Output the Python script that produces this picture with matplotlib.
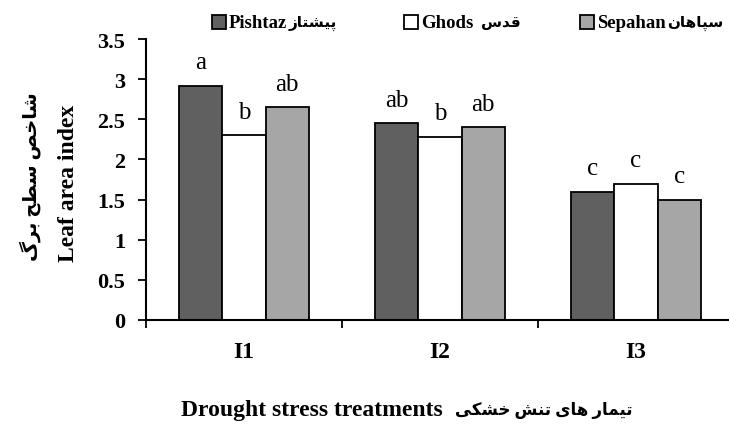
import matplotlib
matplotlib.use("Agg")
import matplotlib.pyplot as plt
from matplotlib.patches import Rectangle
import numpy as np

# ---------------- data ----------------
categories = ["I1", "I2", "I3"]
pishtaz = [2.92, 2.45, 1.60]
ghods = [2.30, 2.28, 1.70]
sepahan = [2.65, 2.40, 1.50]
letters_pishtaz = ["a", "ab", "c"]
letters_ghods = ["b", "b", "c"]
letters_sepahan = ["ab", "ab", "c"]
yticks = [0, 0.5, 1, 1.5, 2, 2.5, 3, 3.5]
ytick_labels = ["0", "0.5", "1", "1.5", "2", "2.5", "3", "3.5"]
series_latin = ["Pishtaz", "Ghods", "Sepahan"]
series_persian = ["پیشتاز", "قدس", "سپاهان"]

# ---------------- simple Persian shaping ----------------
FORMS = {
    'ا': ('\uFE8D', '\uFE8E', None, None),
    'ب': ('\uFE8F', '\uFE90', '\uFE91', '\uFE92'),
    'پ': ('\uFB56', '\uFB57', '\uFB58', '\uFB59'),
    'ت': ('\uFE95', '\uFE96', '\uFE97', '\uFE98'),
    'ح': ('\uFEA1', '\uFEA2', '\uFEA3', '\uFEA4'),
    'خ': ('\uFEA5', '\uFEA6', '\uFEA7', '\uFEA8'),
    'د': ('\uFEA9', '\uFEAA', None, None),
    'ر': ('\uFEAD', '\uFEAE', None, None),
    'ز': ('\uFEAF', '\uFEB0', None, None),
    'س': ('\uFEB1', '\uFEB2', '\uFEB3', '\uFEB4'),
    'ش': ('\uFEB5', '\uFEB6', '\uFEB7', '\uFEB8'),
    'ص': ('\uFEB9', '\uFEBA', '\uFEBB', '\uFEBC'),
    'ط': ('\uFEC1', '\uFEC2', '\uFEC3', '\uFEC4'),
    'ق': ('\uFED5', '\uFED6', '\uFED7', '\uFED8'),
    'ک': ('\uFB8E', '\uFB8F', '\uFB90', '\uFB91'),
    'گ': ('\uFB92', '\uFB93', '\uFB94', '\uFB95'),
    'م': ('\uFEE1', '\uFEE2', '\uFEE3', '\uFEE4'),
    'ن': ('\uFEE5', '\uFEE6', '\uFEE7', '\uFEE8'),
    'ه': ('\uFEE9', '\uFEEA', '\uFEEB', '\uFEEC'),
    'ی': ('\uFBFC', '\uFBFD', '\uFBFE', '\uFBFF'),
}
RIGHT_ONLY = set('ادذرزژو')


def fa(text):
    chars = list(text)
    out = []
    for i, c in enumerate(chars):
        if c not in FORMS:
            out.append(c)
            continue
        prev = chars[i - 1] if i > 0 else None
        nxt = chars[i + 1] if i < len(chars) - 1 else None
        jp = prev in FORMS and prev not in RIGHT_ONLY
        jn = nxt in FORMS and c not in RIGHT_ONLY
        iso, fin, ini, med = FORMS[c]
        if jp and jn:
            f = med
        elif jp:
            f = fin
        elif jn:
            f = ini
        else:
            f = iso
        out.append(f)
    return ''.join(reversed(out))


FAM = ['Liberation Serif', 'DejaVu Sans']

# ---------------- figure ----------------
fig = plt.figure(figsize=(7.29, 4.27), dpi=100)
W, H = 729, 427
ax = fig.add_axes([146 / W, 1 - 321 / H, (734 - 146) / W, (321 - 40) / H])

x = np.arange(len(categories)) + 0.5
bw = 0.22
colors = ["#606060", "#ffffff", "#a6a6a6"]
series = [pishtaz, ghods, sepahan]
letters = [letters_pishtaz, letters_ghods, letters_sepahan]
for k, (vals, col, lets) in enumerate(zip(series, colors, letters)):
    xs = x + (k - 1) * bw
    ax.bar(xs, vals, width=bw, color=col, edgecolor="black", linewidth=1.3, zorder=2)
    for xi, v, l in zip(xs, vals, lets):
        ax.text(xi, v + 0.22, l, ha="center", va="baseline", fontsize=18,
                family="Liberation Serif")

ax.set_xlim(0, 3)
ax.set_ylim(0, 3.5)
ax.spines["top"].set_visible(False)
ax.spines["right"].set_visible(False)
ax.spines["left"].set_linewidth(1.5)
ax.spines["bottom"].set_linewidth(1.5)

ax.set_yticks(yticks)
ax.set_yticklabels(ytick_labels, fontsize=16, fontweight="bold", family="Liberation Serif")
ax.tick_params(axis="y", direction="out", length=6, width=1.3, pad=9)

ax.set_xticks([0, 1, 2, 3])
ax.set_xticklabels([])
ax.set_xticks(x, minor=True)
ax.set_xticklabels(categories, minor=True, fontsize=17, fontweight="bold",
                   family="Liberation Serif")
ax.tick_params(axis="x", which="major", direction="out", length=6, width=1.3)
ax.tick_params(axis="x", which="minor", length=0, pad=15)

# y label (two lines)
fig.text(68 / W, 1 - 183 / H, "Leaf area index", rotation=90, ha="center", va="center",
         fontsize=17, fontweight="bold", family=FAM)
fig.text(30 / W, 1 - 177 / H, fa("شاخص سطح برگ"), rotation=90, ha="center", va="center",
         fontsize=14, fontweight="bold", family=FAM)

# x label
fig.text(443 / W, 1 - 411 / H, "Drought stress treatments", ha="right", va="center",
         fontsize=17, fontweight="bold", family=FAM)
fig.text(455 / W, 1 - 411 / H, fa("تیمار های تنش خشکی"), ha="left", va="center",
         fontsize=12, fontweight="bold", family=FAM)

# legend (manual)
sq_left = [212, 404, 580]
fig.canvas.draw()
renderer = fig.canvas.get_renderer()
for sx, col, lat, per in zip(sq_left, colors, series_latin, series_persian):
    fig.patches.append(Rectangle((sx / W, 1 - 30 / H), 14 / W, 14 / H, facecolor=col,
                                 edgecolor="black", linewidth=1.3,
                                 transform=fig.transFigure, figure=fig))
    t = fig.text((sx + 17) / W, 1 - 23 / H, lat, ha="left", va="center",
                 fontsize=13.5, fontweight="bold", family="Liberation Serif")
    bb = t.get_window_extent(renderer)
    gap = 8 if lat == "Ghods" else 1
    fig.text((bb.x1 + gap) / W, 1 - 23 / H, fa(per), ha="left", va="center",
             fontsize=11, fontweight="bold", family=FAM)

fig.savefig("out.png", dpi=100)
